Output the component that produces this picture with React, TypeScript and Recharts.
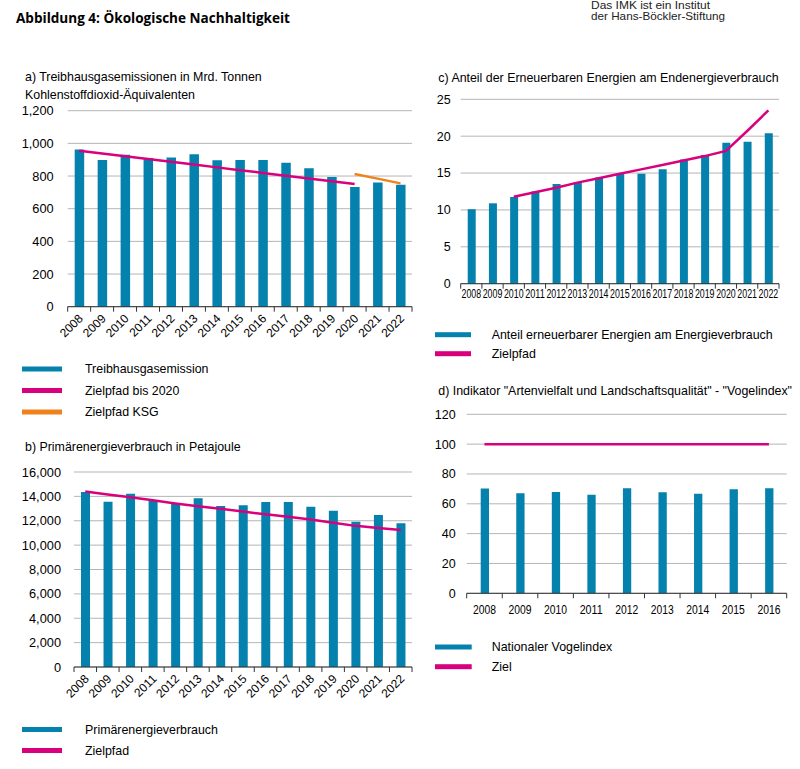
import React from 'react';
import { ComposedChart, Bar, Line, XAxis, YAxis, CartesianGrid } from 'recharts';

// ---------- data ----------
const years15 = ['2008', '2009', '2010', '2011', '2012', '2013', '2014', '2015', '2016', '2017', '2018', '2019', '2020', '2021', '2022'];
const ghgEmissions = [963, 898, 931, 910, 914, 933, 896, 898, 898, 882, 847, 794, 733, 761, 747];
const ghgTarget2020 = [955, 938, 921, 904, 887, 870, 853, 836, 819, 802, 785, 768, 751, null, null];
const ghgTargetKSG = [null, null, null, null, null, null, null, null, null, null, null, null, 813, 784, 755];
const ghgTicks = [0, 200, 400, 600, 800, 1000, 1200];

const primaryEnergy = [14359, 13566, 14222, 13703, 13456, 13840, 13210, 13265, 13538, 13538, 13156, 12827, 11925, 12472, 11788];
const primaryTarget = [14400, 14150, 13920, 13680, 13420, 13190, 12980, 12750, 12530, 12320, 12100, 11830, 11580, 11400, 11240];
const primaryTicks = [0, 2000, 4000, 6000, 8000, 10000, 12000, 14000, 16000];

const renewableShare = [10.1, 10.9, 11.75, 12.5, 13.5, 13.8, 14.4, 14.95, 14.9, 15.5, 16.85, 17.45, 19.1, 19.25, 20.4];
const renewableTarget = [null, null, 11.8, 12.4, 13.0, 13.7, 14.3, 14.9, 15.5, 16.1, 16.7, 17.3, 18.0, 20.7, 23.5];
const renewableTicks = [0, 5, 10, 15, 20, 25];

const years9 = ['2008', '2009', '2010', '2011', '2012', '2013', '2014', '2015', '2016'];
const birdIndex = [70.2, 67.0, 67.9, 66.1, 70.4, 67.7, 66.8, 69.7, 70.4];
const birdTarget = [100, 100, 100, 100, 100, 100, 100, 100, 100];
const birdTicks = [0, 20, 40, 60, 80, 100, 120];

// ---------- styles ----------
const BLUE = '#0581ad';
const MAGENTA = '#d9007e';
const ORANGE = '#f0821e';
const GRID = '#b5b5b5';
const FONT = "'Liberation Sans', Arial, sans-serif";

const fmt = (v: number) => v.toLocaleString('en-US');

type LineSpec = { key: string; color: string };

type PanelProps = {
  left: number;
  top: number;
  width: number;
  height: number;
  margin: { top: number; right: number; bottom: number; left: number };
  yWidth: number;
  xHeight: number;
  data: any[];
  barKey: string;
  lines: LineSpec[];
  ticks: number[];
  yFont: number;
  yGap: number;
  barSize: number;
  rotated: boolean;
  xFont: number;
  xDy: number;
  xLen?: number;
};

const makeTick = (band: number, rotated: boolean, fontSize: number, dy: number, len?: number) => (props: any) => {
  const { x, y, payload, index, visibleTicksCount } = props;
  const half = band / 2;
  const tx = x + 4.5;
  const ty = y + 12.5;
  return (
    <g>
      <line x1={x - half} y1={y} x2={x - half} y2={y + 5} stroke="#333" strokeWidth={1} />
      {index === visibleTicksCount - 1 && (
        <line x1={x + half} y1={y} x2={x + half} y2={y + 5} stroke="#333" strokeWidth={1} />
      )}
      {rotated ? (
        <text
          x={tx}
          y={ty}
          transform={`rotate(-45, ${tx}, ${ty})`}
          textAnchor="end"
          fontSize={fontSize}
          fontFamily={FONT}
          fill="#000"
        >
          {payload.value}
        </text>
      ) : (
        <text
          x={x}
          y={y + dy}
          textAnchor="middle"
          fontSize={fontSize}
          fontFamily={FONT}
          fill="#000"
          textLength={len}
          lengthAdjust={len ? 'spacingAndGlyphs' : undefined}
        >
          {payload.value}
        </text>
      )}
    </g>
  );
};

function Panel(p: PanelProps) {
  const plotWidth = p.width - p.margin.left - p.margin.right - p.yWidth;
  const band = plotWidth / p.data.length;
  return (
    <div style={{ position: 'absolute', left: p.left, top: p.top }}>
      <ComposedChart width={p.width} height={p.height} data={p.data} margin={p.margin}>
        <CartesianGrid vertical={false} stroke={GRID} strokeWidth={1} />
        <XAxis
          dataKey="year"
          interval={0}
          height={p.xHeight}
          axisLine={{ stroke: '#333', strokeWidth: 1 }}
          tickLine={false}
          tickSize={0}
          tickMargin={0}
          tick={makeTick(band, p.rotated, p.xFont, p.xDy, p.xLen)}
        />
        <YAxis
          width={p.yWidth}
          domain={[p.ticks[0], p.ticks[p.ticks.length - 1]]}
          ticks={p.ticks}
          interval={0}
          axisLine={false}
          tickLine={false}
          tickSize={0}
          tickMargin={p.yGap}
          tickFormatter={fmt}
          tick={{ fontSize: p.yFont, fill: '#000', fontFamily: FONT }}
        />
        <Bar dataKey={p.barKey} fill={BLUE} barSize={p.barSize} isAnimationActive={false} />
        {p.lines.map((l) => (
          <Line
            key={l.key}
            dataKey={l.key}
            stroke={l.color}
            strokeWidth={2.5}
            dot={false}
            activeDot={false}
            type="linear"
            connectNulls={false}
            isAnimationActive={false}
          />
        ))}
      </ComposedChart>
    </div>
  );
}

const dataA = years15.map((year, i) => ({ year, value: ghgEmissions[i], target: ghgTarget2020[i], ksg: ghgTargetKSG[i] }));
const dataB = years15.map((year, i) => ({ year, value: primaryEnergy[i], target: primaryTarget[i] }));
const dataC = years15.map((year, i) => ({ year, value: renewableShare[i], target: renewableTarget[i] }));
const dataD = years9.map((year, i) => ({ year, value: birdIndex[i], target: birdTarget[i] }));

type LegendItem = { label: string; color: string };
const legendA: LegendItem[] = [
  { label: 'Treibhausgasemission', color: BLUE },
  { label: 'Zielpfad bis 2020', color: MAGENTA },
  { label: 'Zielpfad KSG', color: ORANGE },
];
const legendB: LegendItem[] = [
  { label: 'Primärenergieverbrauch', color: BLUE },
  { label: 'Zielpfad', color: MAGENTA },
];
const legendC: LegendItem[] = [
  { label: 'Anteil erneuerbarer Energien am Energieverbrauch', color: BLUE },
  { label: 'Zielpfad', color: MAGENTA },
];
const legendD: LegendItem[] = [
  { label: 'Nationaler Vogelindex', color: BLUE },
  { label: 'Ziel', color: MAGENTA },
];

function Legend({ items, x1, x2, tx, ys }: { items: LegendItem[]; x1: number; x2: number; tx: number; ys: number[] }) {
  return (
    <g>
      {items.map((it, i) => (
        <g key={it.label}>
          <rect x={x1} y={ys[i] - 2.5} width={x2 - x1} height={5} fill={it.color} />
          <text x={tx} y={ys[i] + 4.3} fontSize={12.4} fontFamily={FONT} fill="#000">
            {it.label}
          </text>
        </g>
      ))}
    </g>
  );
}

export default function App() {
  return (
    <div style={{ position: 'absolute', left: 0, top: 0, width: 800, height: 769, background: '#fff', overflow: 'hidden' }}>
      <Panel
        left={0}
        top={100}
        width={430}
        height={240}
        margin={{ top: 10.7, right: 18, bottom: 3.3, left: 0 }}
        yWidth={67.7}
        xHeight={30}
        data={dataA}
        barKey="value"
        lines={[
          { key: 'target', color: MAGENTA },
          { key: 'ksg', color: ORANGE },
        ]}
        ticks={ghgTicks}
        yFont={12.8}
        yGap={14}
        barSize={9.5}
        rotated={true}
        xFont={12}
        xDy={0}
      />
      <Panel
        left={0}
        top={460}
        width={430}
        height={240}
        margin={{ top: 12, right: 18, bottom: 3, left: 0 }}
        yWidth={74}
        xHeight={30}
        data={dataB}
        barKey="value"
        lines={[{ key: 'target', color: MAGENTA }]}
        ticks={primaryTicks}
        yFont={12.8}
        yGap={13}
        barSize={9}
        rotated={true}
        xFont={12}
        xDy={0}
      />
      <Panel
        left={420}
        top={90}
        width={380}
        height={220}
        margin={{ top: 9.3, right: 21, bottom: 6.3, left: 0 }}
        yWidth={40.7}
        xHeight={20}
        data={dataC}
        barKey="value"
        lines={[{ key: 'target', color: MAGENTA }]}
        ticks={renewableTicks}
        yFont={12.5}
        yGap={10}
        barSize={8}
        rotated={false}
        xFont={12}
        xDy={13.8}
        xLen={19.6}
      />
      <Panel
        left={420}
        top={405}
        width={380}
        height={215}
        margin={{ top: 9.3, right: 13.3, bottom: 6.7, left: 0 }}
        yWidth={46.7}
        xHeight={20}
        data={dataD}
        barKey="value"
        lines={[{ key: 'target', color: MAGENTA }]}
        ticks={birdTicks}
        yFont={12.5}
        yGap={11}
        barSize={8.3}
        rotated={false}
        xFont={12.8}
        xDy={20.8}
        xLen={23}
      />
      <svg width={800} height={769} style={{ position: 'absolute', left: 0, top: 0, pointerEvents: 'none' }}>
        <text x={16} y={22.7} fontSize={15} fontWeight="bold" fontFamily="'Open Sans', 'Noto Sans', sans-serif" textLength={274} lengthAdjust="spacingAndGlyphs" fill="#000">
          Abbildung 4: Ökologische Nachhaltigkeit
        </text>
        <text x={591} y={8.5} fontSize={11} fontFamily={FONT} textLength={119} lengthAdjust="spacingAndGlyphs" fill="#222">
          Das IMK ist ein Institut
        </text>
        <text x={591} y={19.5} fontSize={11} fontFamily={FONT} textLength={134} lengthAdjust="spacingAndGlyphs" fill="#222">
          der Hans-Böckler-Stiftung
        </text>

        <text x={25} y={80.7} fontSize={12.4} fontFamily={FONT} fill="#000">a) Treibhausgasemissionen in Mrd. Tonnen</text>
        <text x={25} y={99.3} fontSize={12.4} fontFamily={FONT} fill="#000">Kohlenstoffdioxid-Äquivalenten</text>
        <text x={25} y={451} fontSize={12.4} fontFamily={FONT} fill="#000">b) Primärenergieverbrauch in Petajoule</text>
        <text x={438.3} y={82} fontSize={12.4} fontFamily={FONT} fill="#000">c)  Anteil der Erneuerbaren Energien am Endenergieverbrauch</text>
        <text x={438.3} y={395.3} fontSize={12.4} fontFamily={FONT} fill="#000">d) Indikator "Artenvielfalt und Landschaftsqualität" - "Vogelindex"</text>

        <Legend items={legendA} x1={22} x2={62} tx={85} ys={[369, 390.5, 412]} />
        <Legend items={legendB} x1={22} x2={62} tx={85} ys={[729.5, 750.5]} />
        <Legend items={legendC} x1={435} x2={471} tx={491.7} ys={[334.7, 353.7]} />
        <Legend items={legendD} x1={435} x2={471.7} tx={491.7} ys={[647, 666.7]} />
      </svg>
    </div>
  );
}
